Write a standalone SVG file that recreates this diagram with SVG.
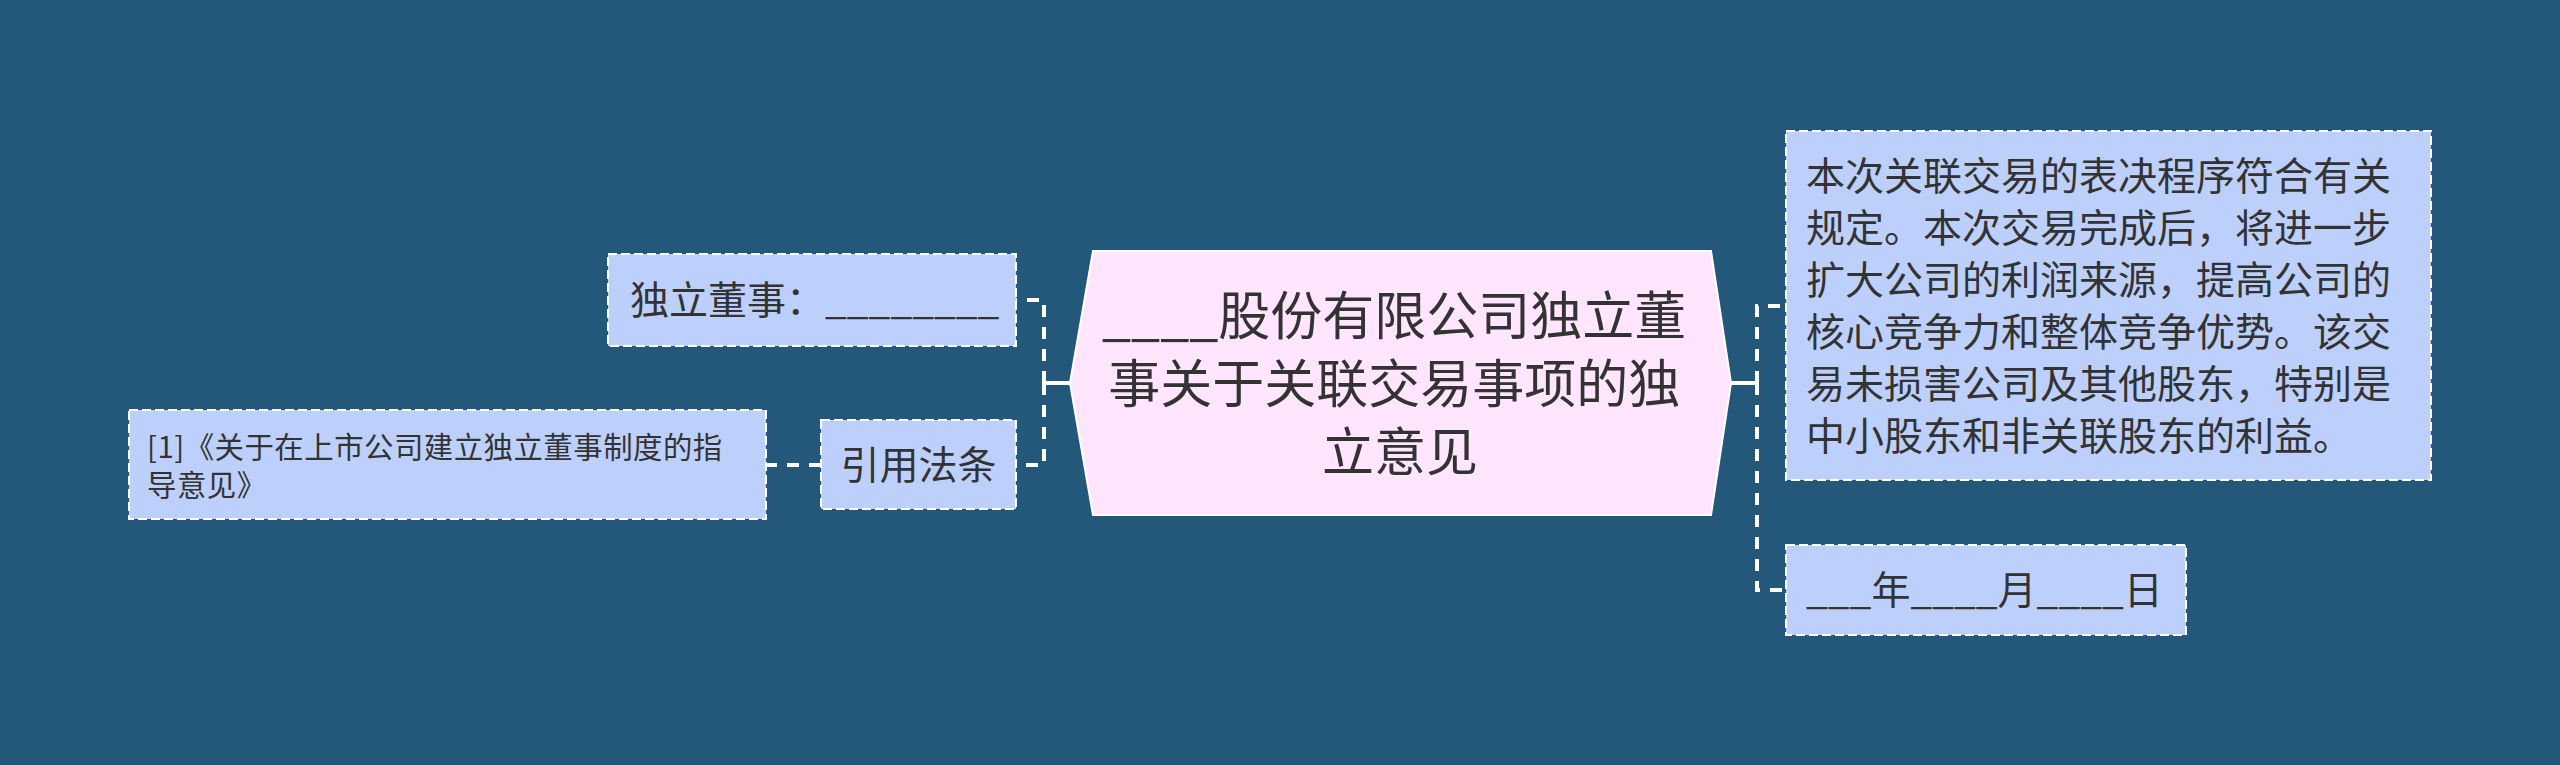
<svg xmlns="http://www.w3.org/2000/svg" width="2560" height="765" viewBox="0 0 2560 765">
<style>
  .t { font-family: "Noto Sans CJK SC", "Noto Sans", sans-serif; fill: #333333; }
  .leaf { fill: #bdd0fc; stroke: #ffffff; stroke-width: 2; stroke-dasharray: 9 4; }
  .root { fill: #ffe5fd; stroke: #ffffff; stroke-width: 2; }
  .solid { fill: none; stroke: #ffffff; stroke-width: 4; }
  .dash { fill: none; stroke: #ffffff; stroke-width: 4; stroke-dasharray: 12 10; }
</style>
<rect x="0" y="0" width="2560" height="765" fill="#24587a"/>
<g id="connectors">
  <path class="solid" d="M1070,383 H1044"/>
  <path class="dash" d="M1044,383 V300 H1016"/>
  <path class="dash" d="M1044,383 V465 H1016"/>
  <path class="dash" d="M821,465 H767"/>
  <path class="solid" d="M1731,383 H1757"/>
  <path class="dash" d="M1757,383 V306 H1786"/>
  <path class="dash" d="M1757,383 V590 H1786"/>
</g>
<g id="root">
  <polygon class="root" points="1070,383 1093,251 1711,251 1731,383 1711,515 1093,515"/>
  <text class="t" font-size="52" text-anchor="middle">
    <tspan x="1400" y="335">____股份有限公司独立董</tspan>
    <tspan x="1400" y="403">事关于关联交易事项的独</tspan>
    <tspan x="1400" y="471">立意见</tspan>
  </text>
</g>
<g id="director">
  <rect class="leaf" x="608" y="254" width="408" height="92"/>
  <text class="t" font-size="39" x="630" y="314">独立董事：________</text>
</g>
<g id="law">
  <rect class="leaf" x="821" y="420" width="195" height="89"/>
  <text class="t" font-size="39" x="918.5" y="479" text-anchor="middle">引用法条</text>
</g>
<g id="law-item">
  <rect class="leaf" x="129" y="410" width="637" height="109"/>
  <text class="t" font-size="29.4" letter-spacing="0.5">
    <tspan x="147" y="458">[1]《关于在上市公司建立独立董事制度的指</tspan>
    <tspan x="147" y="496">导意见》</tspan>
  </text>
</g>
<g id="opinion">
  <rect class="leaf" x="1786" y="131" width="645" height="349"/>
  <text class="t" font-size="39">
    <tspan x="1806" y="190">本次关联交易的表决程序符合有关</tspan>
    <tspan x="1806" y="242">规定。本次交易完成后，将进一步</tspan>
    <tspan x="1806" y="294">扩大公司的利润来源，提高公司的</tspan>
    <tspan x="1806" y="346">核心竞争力和整体竞争优势。该交</tspan>
    <tspan x="1806" y="398">易未损害公司及其他股东，特别是</tspan>
    <tspan x="1806" y="450">中小股东和非关联股东的利益。</tspan>
  </text>
</g>
<g id="date">
  <rect class="leaf" x="1786" y="545" width="400" height="90"/>
  <text class="t" font-size="39" x="1806" y="604">___年____月____日</text>
</g>
</svg>
